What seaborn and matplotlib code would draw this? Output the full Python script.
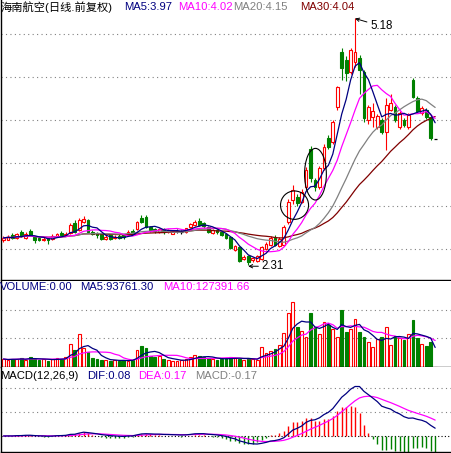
import numpy as np
import pandas as pd
import matplotlib
matplotlib.use("Agg")
import matplotlib.pyplot as plt
from matplotlib.patches import Ellipse
import seaborn as sns

# ---- daily bars (前复权) ----
opens = [2.60, 2.61, 2.66, 2.63, 2.70, 2.63, 2.71, 2.64, 2.63, 2.60,
         2.63, 2.62, 2.65, 2.69, 2.66, 2.69, 2.80, 2.72, 2.82, 2.84,
         2.70, 2.69, 2.68, 2.62, 2.66, 2.63, 2.65, 2.66, 2.66, 2.71,
         2.73, 2.86, 2.87, 2.76, 2.73, 2.70, 2.73, 2.70, 2.68, 2.71,
         2.70, 2.70, 2.76, 2.78, 2.83, 2.80, 2.76, 2.69, 2.72, 2.70,
         2.68, 2.64, 2.49, 2.52, 2.38, 2.42, 2.37, 2.36, 2.38, 2.50,
         2.55, 2.63, 2.54, 2.55, 2.81, 3.07, 3.10, 3.05, 3.22, 3.66,
         3.30, 3.22, 3.44, 3.79, 3.74, 4.15, 4.79, 4.70, 4.56, 4.68,
         4.72, 4.56, 4.00, 4.03, 3.92, 4.00, 3.86, 4.12, 4.15, 3.92,
         4.00, 3.92, 4.47, 4.26, 4.08, 4.12, 4.03, 3.78]
highs = [2.65, 2.66, 2.69, 2.69, 2.72, 2.70, 2.73, 2.65, 2.64, 2.64,
         2.64, 2.67, 2.69, 2.71, 2.70, 2.80, 2.84, 2.86, 2.88, 2.85,
         2.72, 2.70, 2.69, 2.66, 2.67, 2.66, 2.67, 2.67, 2.72, 2.73,
         2.83, 2.90, 2.89, 2.77, 2.74, 2.74, 2.75, 2.73, 2.72, 2.73,
         2.72, 2.75, 2.80, 2.84, 2.86, 2.81, 2.77, 2.73, 2.73, 2.71,
         2.69, 2.65, 2.55, 2.53, 2.43, 2.43, 2.41, 2.43, 2.53, 2.58,
         2.65, 2.66, 2.64, 2.78, 3.08, 3.24, 3.14, 3.20, 3.45, 3.70,
         3.33, 3.46, 3.72, 3.82, 4.00, 4.40, 4.84, 4.74, 4.84, 5.18,
         4.76, 4.58, 4.18, 4.20, 4.07, 4.02, 4.25, 4.30, 4.17, 4.10,
         4.02, 4.08, 4.49, 4.28, 4.16, 4.14, 4.05, 3.78]
lows = [2.58, 2.60, 2.62, 2.62, 2.64, 2.62, 2.65, 2.57, 2.59, 2.59,
        2.56, 2.61, 2.64, 2.65, 2.65, 2.68, 2.69, 2.71, 2.80, 2.69,
        2.66, 2.63, 2.60, 2.61, 2.60, 2.62, 2.62, 2.62, 2.65, 2.67,
        2.72, 2.80, 2.75, 2.70, 2.69, 2.69, 2.68, 2.69, 2.67, 2.69,
        2.68, 2.69, 2.75, 2.77, 2.77, 2.75, 2.69, 2.68, 2.68, 2.65,
        2.62, 2.50, 2.48, 2.35, 2.37, 2.31, 2.35, 2.35, 2.37, 2.49,
        2.54, 2.54, 2.52, 2.54, 2.79, 3.02, 3.00, 3.03, 3.20, 3.28,
        3.18, 3.20, 3.42, 3.66, 3.72, 4.12, 4.47, 4.45, 4.54, 4.62,
        4.30, 3.98, 3.95, 3.92, 3.90, 3.84, 3.65, 4.10, 3.98, 3.90,
        3.92, 3.90, 4.25, 4.08, 4.06, 4.01, 3.77, 3.78]
closes = [2.63, 2.64, 2.63, 2.67, 2.65, 2.68, 2.66, 2.61, 2.61, 2.62,
          2.60, 2.65, 2.68, 2.66, 2.68, 2.78, 2.70, 2.84, 2.85, 2.70,
          2.68, 2.66, 2.62, 2.64, 2.62, 2.64, 2.63, 2.64, 2.70, 2.68,
          2.81, 2.82, 2.76, 2.72, 2.71, 2.73, 2.70, 2.72, 2.71, 2.71,
          2.70, 2.74, 2.79, 2.82, 2.78, 2.77, 2.70, 2.72, 2.70, 2.66,
          2.63, 2.51, 2.53, 2.36, 2.41, 2.35, 2.40, 2.42, 2.52, 2.56,
          2.63, 2.55, 2.62, 2.76, 3.05, 3.19, 3.03, 3.16, 3.42, 3.32,
          3.22, 3.44, 3.69, 3.69, 3.98, 4.38, 4.60, 4.55, 4.81, 4.79,
          4.58, 4.02, 4.15, 4.10, 4.05, 3.86, 4.17, 4.20, 4.00, 4.08,
          3.94, 4.06, 4.27, 4.10, 4.14, 4.03, 3.79, 3.78]
volumes = [38400, 33600, 38400, 38400, 43200, 33600, 48000, 38400, 33600, 38400,
           28800, 38400, 43200, 38400, 48000, 110400, 81600, 158400, 91200, 72000,
           43200, 38400, 33600, 33600, 28800, 33600, 28800, 33600, 28800, 33600,
           81600, 100800, 91200, 52800, 48000, 52800, 38400, 33600, 28800, 28800,
           33600, 38400, 48000, 57600, 52800, 48000, 43200, 38400, 33600, 38400,
           43200, 48000, 43200, 38400, 33600, 43200, 38400, 33600, 96000, 67200,
           76800, 86400, 105600, 163200, 259200, 312000, 192000, 172800, 144000, 259200,
           192000, 158400, 216000, 201600, 182400, 144000, 273600, 168000, 182400, 230400,
           168000, 144000, 120000, 96000, 134400, 144000, 192000, 105600, 150000, 140000,
           130000, 160000, 225110.1, 140000, 110000, 100000, 118806.5, 0]

RED, GREEN = "#FF0000", "#008000"
MA_COLORS = {"ma5": "#000080", "ma10": "#FF00FF", "ma20": "#808080", "ma30": "#800000"}

df = pd.DataFrame({"open": opens, "high": highs, "low": lows,
                   "close": closes, "volume": volumes})
df["idx"] = np.arange(len(df))
for n in (5, 10, 20, 30):
    df[f"ma{n}"] = df["close"].rolling(n, min_periods=1).mean()
df["vma5"] = df["volume"].rolling(5, min_periods=1).mean()
df["vma10"] = df["volume"].rolling(10, min_periods=1).mean()
ema12 = df["close"].ewm(span=12, adjust=False).mean()
ema26 = df["close"].ewm(span=26, adjust=False).mean()
df["dif"] = ema12 - ema26
df["dea"] = df["dif"].ewm(span=9, adjust=False).mean()
df["macd"] = 2 * (df["dif"] - df["dea"])

sns.set_theme(style="white")
plt.rcParams["font.family"] = ["Liberation Sans", "Noto Sans CJK SC", "DejaVu Sans"]

W, H = 452, 453
fig = plt.figure(figsize=(W / 100, H / 100), dpi=100)
fig.patch.set_facecolor("white")


def px_axes(top, bottom):
    return fig.add_axes([1 / W, 1 - bottom / H, 450 / W, (bottom - top) / H])


ax_p = px_axes(0, 280)
ax_v = px_axes(281, 367)
ax_m = px_axes(367, 452)

XLIM = (-0.56, 100.56)
dotted = dict(color="#808080", lw=0.8, linestyle=(0, (1, 3)))

for ax in (ax_p, ax_v, ax_m):
    ax.set_xlim(*XLIM)
    ax.set_facecolor("white")
    ax.set_xticks([])
    ax.set_yticks([])
    for s in ("top", "right"):
        ax.spines[s].set_visible(False)
    for s in ("left", "bottom"):
        ax.spines[s].set_color("black")
        ax.spines[s].set_linewidth(1.0)

# ---- price panel ----
ax_p.set_ylim(2.140, 5.395)
for lvl in (2.5, 3.0, 3.5, 4.0, 4.5, 5.0):
    ax_p.axhline(lvl, zorder=0, **dotted)

up = df["close"] > df["open"]
down = df["close"] < df["open"]
flat = df["close"] == df["open"]
wick_colors = np.where(up, RED, np.where(down, GREEN, "black"))
ax_p.vlines(df["idx"], df["low"], df["high"], colors=wick_colors, lw=0.8, zorder=2)
ax_p.bar(df["idx"][up], (df["close"] - df["open"])[up], bottom=df["open"][up],
         width=0.62, facecolor="white", edgecolor=RED, lw=0.8, zorder=3)
ax_p.bar(df["idx"][down], (df["open"] - df["close"])[down], bottom=df["close"][down],
         width=0.62, color=GREEN, edgecolor=GREEN, lw=0.8, zorder=3)
ax_p.hlines(df["close"][flat], df["idx"][flat] - 0.35, df["idx"][flat] + 0.35,
            colors="black", lw=0.9, zorder=3)

for key in ("ma30", "ma20", "ma10", "ma5"):
    sns.lineplot(data=df, x="idx", y=key, ax=ax_p, color=MA_COLORS[key],
                 lw=0.9, zorder=4, legend=False)

peak_i = int(df["high"].idxmax())
low_i = int(df["low"].idxmin())
ax_p.annotate(f"{df['high'].max():.2f}", xy=(peak_i, df["high"].max()),
              xytext=(peak_i + 3.4, df["high"].max() - 0.09),
              fontsize=8.3, color="black", va="center", ha="left",
              arrowprops=dict(arrowstyle="->", color="black", lw=0.7,
                              shrinkA=0, shrinkB=0, mutation_scale=6))
ax_p.annotate(f"{df['low'].min():.2f}", xy=(low_i, df["low"].min() - 0.01),
              xytext=(low_i + 3.0, df["low"].min() - 0.01),
              fontsize=8.3, color="black", va="center", ha="left",
              arrowprops=dict(arrowstyle="->", color="black", lw=0.7,
                              shrinkA=0, shrinkB=0, mutation_scale=6))
ax_p.add_patch(Ellipse((65.4, 3.01), 6.3, 0.33, fill=False, ec="black", lw=0.8, zorder=5))
ax_p.add_patch(Ellipse((70.1, 3.37), 4.9, 0.60, fill=False, ec="black", lw=0.8, zorder=5))

# ---- volume panel ----
VTOP = 412800
ax_v.set_ylim(0, VTOP)
for lvl in (VTOP / 3, 2 * VTOP / 3):
    ax_v.axhline(lvl, zorder=0, **dotted)
vup = df["close"] >= df["open"]
ax_v.bar(df["idx"][vup], df["volume"][vup], width=0.62, facecolor="white",
         edgecolor=RED, lw=0.8, zorder=2)
ax_v.bar(df["idx"][~vup], df["volume"][~vup], width=0.62, color=GREEN,
         edgecolor=GREEN, lw=0.8, zorder=2)
sns.lineplot(data=df, x="idx", y="vma10", ax=ax_v, color="#FF00FF", lw=0.9, zorder=3, legend=False)
sns.lineplot(data=df, x="idx", y="vma5", ax=ax_v, color="#000080", lw=0.9, zorder=4, legend=False)

# ---- MACD panel ----
ax_m.set_ylim(-0.168, 0.7245)
for lvl in (0.25, 0.5):
    ax_m.axhline(lvl, zorder=0, **dotted)
ax_m.axhline(0, color="black", lw=0.8, linestyle=(0, (1, 2)), zorder=1)
ax_m.vlines(df["idx"], 0, df["macd"],
            colors=np.where(df["macd"] >= 0, RED, GREEN), lw=1.0, zorder=2)
sns.lineplot(data=df, x="idx", y="dea", ax=ax_m, color="#FF00FF", lw=0.9, zorder=3, legend=False)
sns.lineplot(data=df, x="idx", y="dif", ax=ax_m, color="#000080", lw=0.9, zorder=4, legend=False)

for ax in (ax_p, ax_v, ax_m):
    ax.set_xlabel("")
    ax.set_ylabel("")


# ---- header captions ----
def caption(x_px, y_px, s, color):
    fig.text(x_px / W, 1 - y_px / H, s, color=color, fontsize=8.1,
             ha="left", va="center")


last = df.iloc[-1]
caption(0, 7, "海南航空(日线.前复权)", "black")
caption(124, 7, f"MA5:{last['ma5']:.2f}", MA_COLORS["ma5"])
caption(178, 7, f"MA10:{last['ma10']:.2f}", MA_COLORS["ma10"])
caption(233, 7, f"MA20:{last['ma20']:.2f}", MA_COLORS["ma20"])
caption(300, 7, f"MA30:{last['ma30']:.2f}", MA_COLORS["ma30"])

caption(0, 287, f"VOLUME:{last['volume']:.2f}", "#000080")
caption(80, 287, f"MA5:{last['vma5']:.2f}", "#000080")
caption(163, 287, f"MA10:{last['vma10']:.2f}", "#FF00FF")

caption(0, 376, "MACD(12,26,9)", "black")
caption(87, 376, f"DIF:{last['dif']:.2f}", "#000080")
caption(138, 376, f"DEA:{last['dea']:.2f}", "#FF00FF")
caption(195, 376, f"MACD:{last['macd']:.2f}", "#808080")

fig.savefig("out.png", dpi=100, facecolor="white")
